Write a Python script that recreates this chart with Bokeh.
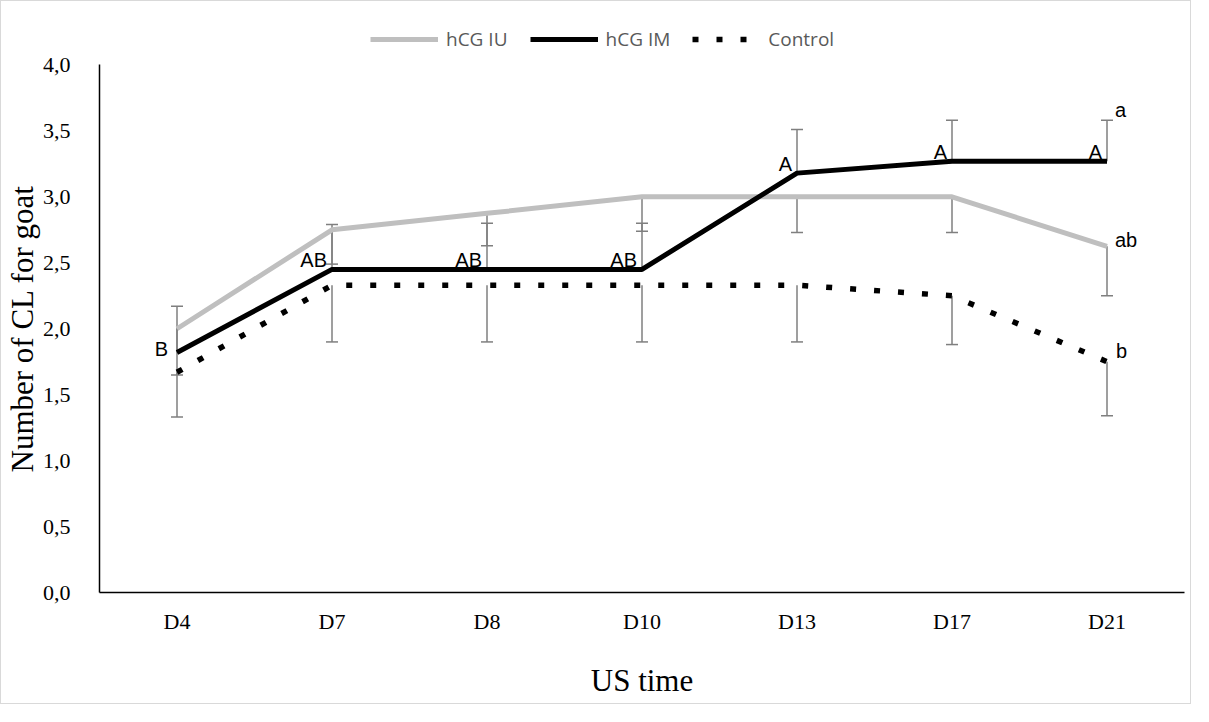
from bokeh.plotting import figure
from bokeh.models import (ColumnDataSource, FactorRange, Range1d, FixedTicker, CustomJSTickFormatter,
                          Whisker, TeeHead, Legend, LegendItem, Title)
from bokeh.core.properties import value
from bokeh.embed import file_html
from bokeh.resources import INLINE

# ---------------- data ----------------
days = ["D4", "D7", "D8", "D10", "D13", "D17", "D21"]
hcg_iu = [2.0, 2.75, 2.875, 3.0, 3.0, 3.0, 2.625]
hcg_im = [1.82, 2.45, 2.45, 2.45, 3.18, 3.27, 3.27]
control = [1.67, 2.33, 2.33, 2.33, 2.33, 2.25, 1.75]
err_iu = [0.35, 0.26, 0.245, 0.26, 0.27, 0.27, 0.375]      # drawn downwards
err_im = [0.35, 0.34, 0.35, 0.35, 0.33, 0.31, 0.31]         # drawn upwards
err_ctrl = [0.34, 0.43, 0.43, 0.43, 0.43, 0.37, 0.41]       # drawn downwards
sig_im = ["B", "AB", "AB", "AB", "A", "A", "A"]
sig_last = ["a", "ab", "b"]
y_ticks = [0, 0.5, 1.0, 1.5, 2.0, 2.5, 3.0, 3.5, 4.0]

# ---------------- figure ----------------
# y range extends a little above 4 so the legend sits inside the (invisible) frame;
# the axis itself is bounded to 0..4
p = figure(x_range=FactorRange(factors=days, range_padding=0), y_range=Range1d(0, 4.36),
           width=1191, height=704, output_backend="svg", toolbar_location=None,
           min_border_left=98, min_border_right=8, min_border_top=16, min_border_bottom=113)
p.styles = {"border": "1px solid #d9d9d9"}
p.outline_line_color = None
p.xgrid.grid_line_color = None
p.ygrid.grid_line_color = None
p.background_fill_color = "white"
p.border_fill_color = "white"

src = ColumnDataSource(dict(
    x=days, iu=hcg_iu, im=hcg_im, ctrl=control,
    iu_lo=[v - e for v, e in zip(hcg_iu, err_iu)],
    im_hi=[v + e for v, e in zip(hcg_im, err_im)],
    ctrl_lo=[v - e for v, e in zip(control, err_ctrl)],
    sig=sig_im,
))

# error bars
bar_color = "#7f7f7f"
w1 = Whisker(base="x", lower="iu_lo", upper="iu", source=src, line_color=bar_color, line_width=1.5,
             upper_head=None, lower_head=TeeHead(size=12, line_color=bar_color, line_width=1.5))
w2 = Whisker(base="x", lower="im", upper="im_hi", source=src, line_color=bar_color, line_width=1.5,
             lower_head=None, upper_head=TeeHead(size=12, line_color=bar_color, line_width=1.5))
w3 = Whisker(base="x", lower="ctrl_lo", upper="ctrl", source=src, line_color=bar_color, line_width=1.5,
             upper_head=None, lower_head=TeeHead(size=12, line_color=bar_color, line_width=1.5))
for w in (w1, w2, w3):
    w.level = "underlay"
    p.add_layout(w)

r_iu = p.line("x", "iu", source=src, line_color="#bfbfbf", line_width=5, line_join="round")
r_im = p.line("x", "im", source=src, line_color="black", line_width=5, line_join="round")
r_ct = p.line("x", "ctrl", source=src, line_color="black", line_width=5.5, line_dash="6 18",
              line_cap="butt")

# significance letters
ann_font = value("Liberation Sans")
first = ColumnDataSource(dict(x=days[:1], y=hcg_im[:1], t=sig_im[:1]))
p.text("x", "y", "t", source=first, text_font=ann_font, text_font_size="20px", text_color="black",
       text_align="right", text_baseline="middle", x_offset=-9, y_offset=-3)
rest = ColumnDataSource(dict(x=days[1:], y=hcg_im[1:], t=sig_im[1:]))
p.text("x", "y", "t", source=rest, text_font=ann_font, text_font_size="20px", text_color="black",
       text_align="right", text_baseline="bottom", x_offset=-5, y_offset=2)
last_src = ColumnDataSource(dict(x=[days[-1]] * 3,
                                 y=[hcg_im[-1] + err_im[-1], hcg_iu[-1], control[-1]],
                                 t=sig_last))
last_src.data["dx"] = [8, 8, 9]
last_src.data["dy"] = [-10, -6, -11]
p.text("x", "y", "t", source=last_src, text_font=ann_font, text_font_size="20px", text_color="black",
       text_align="left", text_baseline="middle", x_offset="dx", y_offset="dy")

# axes
for ax in (p.xaxis[0], p.yaxis[0]):
    ax.axis_line_color = "black"
    ax.axis_line_width = 1.5
    ax.major_tick_line_color = None
    ax.minor_tick_line_color = None
    ax.major_label_text_font = "Liberation Serif"
    ax.major_label_text_font_size = "22px"
    ax.major_label_text_color = "black"
    ax.axis_label_text_font = "Liberation Serif"
    ax.axis_label_text_font_style = "normal"
    ax.axis_label_text_color = "black"

p.xaxis.axis_label = "US time"
p.xaxis.axis_label_text_font_size = "31px"
p.xaxis.major_label_standoff = 10
p.xaxis.axis_label_standoff = 26

p.yaxis.bounds = (0, 4)
p.yaxis.ticker = FixedTicker(ticks=y_ticks)
p.yaxis.formatter = CustomJSTickFormatter(code="return tick.toFixed(1).replace('.', ',');")
p.yaxis.major_label_standoff = 23
p.yaxis.axis_label_standoff = 0

ytitle = Title(text="Number of CL for goat", align="left", offset=120,
               text_font="Liberation Serif", text_font_size="31px", text_font_style="normal",
               text_color="black", standoff=0)
p.add_layout(ytitle, "left")

legend = Legend(items=[LegendItem(label="hCG IU", renderers=[r_iu]),
                       LegendItem(label="hCG IM", renderers=[r_im]),
                       LegendItem(label="Control", renderers=[r_ct])],
                orientation="horizontal", location=(271, 540),
                glyph_width=68, glyph_height=20, label_standoff=8, spacing=22, padding=5,
                label_text_font="Open Sans", label_text_font_size="19px", label_text_color="#595959",
                border_line_color=None, background_fill_alpha=0)
p.add_layout(legend, "center")

open("out.html", "w").write(file_html(p, INLINE))
